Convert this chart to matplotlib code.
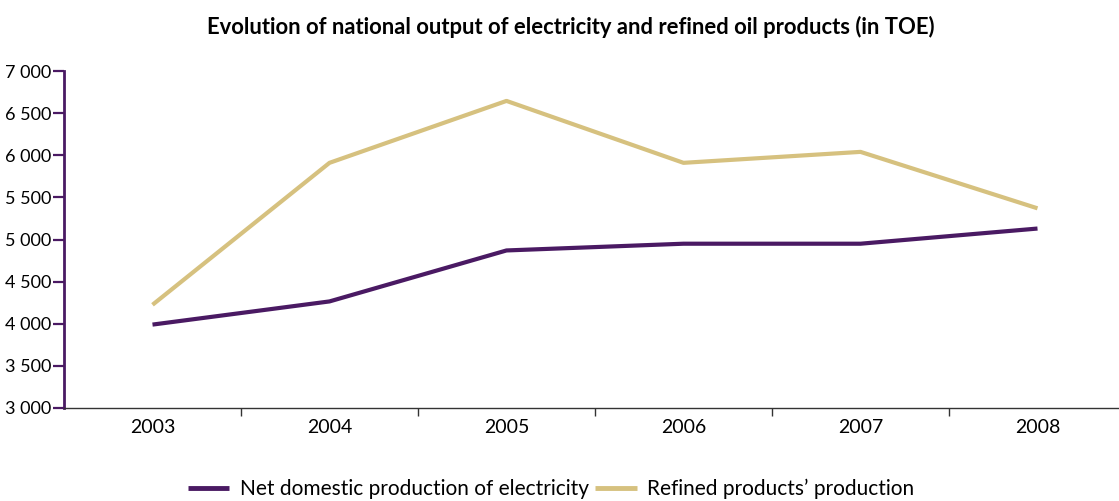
import numpy as np
import matplotlib
matplotlib.use("Agg")
import matplotlib.pyplot as plt
from matplotlib.ticker import FuncFormatter, FixedLocator

plt.rcParams['font.family'] = ['Lato', 'DejaVu Sans']

years = ["2003", "2004", "2005", "2006", "2007", "2008"]
electricity = [3990, 4265, 4870, 4950, 4950, 5130]
refined = [4225, 5910, 6645, 5910, 6040, 5370]

PURPLE = "#4A1A63"
GOLD = "#D6C17F"

fig = plt.figure(figsize=(11.19, 5.01), dpi=100)
ax = fig.add_axes([64 / 1119, 1 - 408 / 501, 1062 / 1119, 337 / 501])

x = np.arange(len(years))
ax.plot(x, electricity, color=PURPLE, linewidth=3, solid_capstyle='butt',
        label="Net domestic production of electricity")
ax.plot(x, refined, color=GOLD, linewidth=3, solid_capstyle='butt',
        label="Refined products\u2019 production")

ax.set_xlim(-0.5, len(years) - 0.5)
ax.set_ylim(3000, 7000)
ax.set_yticks(np.arange(3000, 7001, 500))
ax.yaxis.set_major_formatter(FuncFormatter(lambda v, _: f"{int(v):,}".replace(",", " ")))

# category boundaries get the tick marks, labels sit in between
ax.xaxis.set_major_locator(FixedLocator(np.arange(0.5, len(years) - 0.5, 1)))
ax.xaxis.set_minor_locator(FixedLocator(x))
ax.set_xticklabels([], minor=False)
ax.set_xticklabels(years, minor=True)
ax.tick_params(axis='x', which='major', direction='out', length=6, width=1, color="#333333")
ax.tick_params(axis='x', which='minor', length=0, labelsize=14, pad=8)
ax.tick_params(axis='y', direction='out', length=8, width=1.6, color=PURPLE, labelsize=13, pad=1)

for side in ("top", "right"):
    ax.spines[side].set_visible(False)
ax.spines["left"].set_color(PURPLE)
ax.spines["left"].set_linewidth(2)
ax.spines["bottom"].set_color("#333333")
ax.spines["bottom"].set_linewidth(1)

fig.text(571 / 1119, 1 - 27 / 501, "Evolution of national output of electricity and refined oil products (in TOE)",
         ha="center", va="center", fontsize=15.8, fontweight="bold")

leg = fig.legend(loc="center", bbox_to_anchor=(551 / 1119, 1 - 489 / 501), ncol=2, frameon=False,
                 fontsize=15, handlelength=2.0, handletextpad=0.5, columnspacing=0.3)
for line in leg.get_lines():
    line.set_linewidth(3.5)

fig.savefig("out.png", dpi=100)
